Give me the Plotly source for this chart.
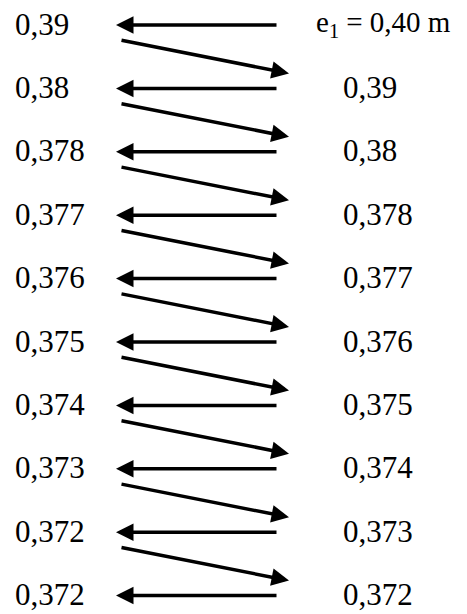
import plotly.graph_objects as go

# Successive iteration values (e in metres)
left_labels = ["0,39", "0,38", "0,378", "0,377", "0,376", "0,375", "0,374", "0,373", "0,372", "0,372"]
right_labels = ["e<sub>1</sub> = 0,40 m", "0,39", "0,38", "0,378", "0,377", "0,376", "0,375", "0,374", "0,373", "0,372"]

W, H = 467, 614
PAD = 8  # page body margin
Y0, DY = 26, 63.4
FONT = dict(family="Liberation Serif, Times New Roman, serif", size=31, color="black")
FONT_E = dict(family="Liberation Serif, Times New Roman, serif", size=29, color="black")

fig = go.Figure()
fig.add_trace(go.Scatter(x=[200], y=[300], mode="markers", marker=dict(opacity=0), hoverinfo="skip", showlegend=False))

n = len(left_labels)
ann = []
for i in range(n):
    y = Y0 + DY * i
    ann.append(dict(x=13, y=y - 2, text=left_labels[i], showarrow=False, xanchor="left", yanchor="middle", font=FONT))
    if i == 0:
        ann.append(dict(x=315, y=y - 2, text=right_labels[i], showarrow=False, xanchor="left", yanchor="middle",
                        font=FONT_E, borderpad=0))
    else:
        ann.append(dict(x=341, y=y - 2, text=right_labels[i], showarrow=False, xanchor="left", yanchor="middle", font=FONT))
    # horizontal arrow right -> left
    ann.append(dict(x=116, y=y - 1, ax=278, ay=y - 1, xref="x", yref="y", axref="x", ayref="y",
                    text="", showarrow=True, arrowhead=2, arrowwidth=3.5, arrowsize=1.0, arrowcolor="black"))
    if i < n - 1:
        yn = Y0 + DY * (i + 1)
        ann.append(dict(x=289, y=yn - 16, ax=120, ay=y + 14, xref="x", yref="y", axref="x", ayref="y",
                        text="", showarrow=True, arrowhead=2, arrowwidth=3.5, arrowsize=1.0, arrowcolor="black"))

fig.update_layout(
    width=W - PAD, height=H - PAD, margin=dict(l=0, r=0, t=0, b=0),
    paper_bgcolor="white", plot_bgcolor="white",
    xaxis=dict(range=[PAD, W], visible=False, fixedrange=True),
    yaxis=dict(range=[H, PAD], visible=False, fixedrange=True),
    annotations=ann, showlegend=False,
)
fig.write_html("out.html")
